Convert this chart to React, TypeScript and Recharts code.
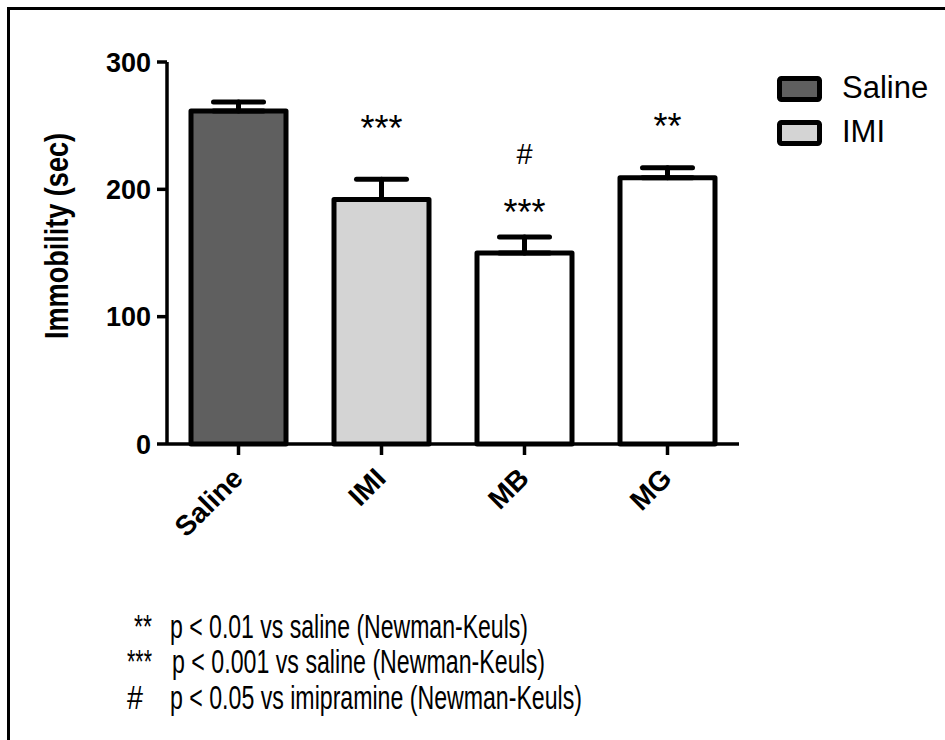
import React from 'react';
import { BarChart, Bar, XAxis, YAxis, ErrorBar, Cell, Legend, ReferenceDot } from 'recharts';

const FONT = '"Liberation Sans", Arial, Helvetica, sans-serif';

// ---- data ----
const categories = ['Saline', 'IMI', 'MB', 'MG'];
const immobility = [261.5, 192, 150, 209];
const semUpper = [7, 16, 12.5, 8];
const barFills = ['#5f5f5f', '#d4d4d4', '#ffffff', '#ffffff'];
const yTicks = [0, 100, 200, 300];
const legendNames = ['Saline', 'IMI'];
const legendFills = ['#5f5f5f', '#d4d4d4'];
const annotCategories = ['IMI', 'MB', 'MB', 'MG'];
const annotTexts = ['***', '#', '***', '**'];
const annotLevels = [254, 228, 188, 255];
const footMarks = ['**', '***', '#'];
const footTexts = [
  'p < 0.01 vs saline (Newman-Keuls)',
  'p < 0.001 vs saline (Newman-Keuls)',
  'p < 0.05 vs imipramine (Newman-Keuls)',
];
const yTitle = 'Immobility (sec)';

const data = categories.map((c, i) => ({ name: c, value: immobility[i], err: [0, semUpper[i]] }));

const XTick = (props: any) => {
  const { x, y, payload } = props;
  const ax = x + 6;
  const ay = y + 23;
  return (
    <text
      x={ax}
      y={ay}
      transform={`rotate(-45, ${ax}, ${ay})`}
      textAnchor="end"
      fontFamily={FONT}
      fontWeight="bold"
      fontSize={28}
      fill="#000"
    >
      {payload.value}
    </text>
  );
};

const LegendContent = () => (
  <svg width={175} height={85} style={{ display: 'block', overflow: 'visible' }}>
    {legendNames.map((n, i) => (
      <g key={n}>
        <rect
          x={9.5}
          y={8.5 + i * 44}
          width={40}
          height={21}
          rx={2}
          fill={legendFills[i]}
          stroke="#000"
          strokeWidth={5}
        />
        <text x={72} y={28 + i * 44} fontFamily={FONT} fontSize={31} fill="#000">
          {n}
        </text>
      </g>
    ))}
  </svg>
);

const YTitle = () => (
  <text
    x={68}
    y={236}
    transform="rotate(-90, 68, 236)"
    textAnchor="middle"
    fontFamily={FONT}
    fontWeight="bold"
    fontSize={34}
    textLength={206}
    lengthAdjust="spacingAndGlyphs"
    fill="#000"
  >
    {yTitle}
  </text>
);

const footMarkX = [134, 127, 127];
const footMarkW = [18, 25, 16];
const footTextX = [170, 172, 170];
const footTextW = [358, 373, 412];
const footBase = [638, 673, 709];

export default function App() {
  return (
    <div style={{ position: 'absolute', left: 0, top: 0, width: 945, height: 740, overflow: 'hidden', background: '#fff' }}>
      <BarChart
        width={945}
        height={740}
        data={data}
        margin={{ top: 62, right: 206, bottom: 236, left: 67 }}
        barSize={95}
      >
        <XAxis
          dataKey="name"
          height={60}
          tickSize={11}
          interval={0}
          tick={<XTick />}
          axisLine={{ stroke: '#000', strokeWidth: 3.5 }}
          tickLine={{ stroke: '#000', strokeWidth: 3.5 }}
        />
        <YAxis
          domain={[0, 300]}
          ticks={yTicks}
          width={100}
          tickSize={10}
          tickMargin={6}
          interval={0}
          tick={{ fontFamily: FONT, fontSize: 27, fontWeight: 'bold', fill: '#000' }}
          axisLine={{ stroke: '#000', strokeWidth: 3.5 }}
          tickLine={{ stroke: '#000', strokeWidth: 3.5 }}
          label={{ content: () => <YTitle /> }}
        />
        <Legend
          layout="vertical"
          verticalAlign="middle"
          align="center"
          wrapperStyle={{ left: 770, top: 70, width: 175, height: 85 }}
          content={() => <LegendContent />}
        />
        <Bar
          dataKey="value"
          stroke="#000"
          strokeWidth={5}
          strokeLinejoin="round"
          isAnimationActive={false}
        >
          {data.map((d, i) => (
            <Cell key={d.name} fill={barFills[i]} />
          ))}
          <ErrorBar
            dataKey="err"
            direction="y"
            width={25}
            stroke="#000"
            strokeWidth={5}
            strokeLinecap="round"
            isAnimationActive={false}
          />
        </Bar>
        {annotTexts.map((t, i) => (
          <ReferenceDot
            key={i}
            x={annotCategories[i]}
            y={annotLevels[i]}
            r={0}
            ifOverflow="visible"
            shape={(p: any) => {
              const isStar = t.includes('*');
              const fs = isStar ? 36 : 29;
              const dy = isStar ? 0.56 * fs : 0.36 * fs;
              return (
                <text x={p.cx} y={p.cy + dy} textAnchor="middle" fontFamily={FONT} fontSize={fs} fill="#000">
                  {t}
                </text>
              );
            }}
          />
        ))}
      </BarChart>
      <svg
        width={945}
        height={740}
        style={{ position: 'absolute', left: 0, top: 0, pointerEvents: 'none' }}
      >
        {footTexts.map((t, i) => (
          <g key={i}>
            <text
              x={footMarkX[i]}
              y={footBase[i]}
              fontFamily={FONT}
              fontSize={33}
              textLength={footMarkW[i]}
              lengthAdjust="spacingAndGlyphs"
              fill="#000"
            >
              {footMarks[i]}
            </text>
            <text
              x={footTextX[i]}
              y={footBase[i]}
              fontFamily={FONT}
              fontSize={33}
              textLength={footTextW[i]}
              lengthAdjust="spacingAndGlyphs"
              fill="#000"
            >
              {t}
            </text>
          </g>
        ))}
      </svg>
      <div
        style={{
          position: 'absolute',
          left: 7,
          top: 7,
          width: 2000,
          height: 2000,
          borderLeft: '3px solid #000',
          borderTop: '3px solid #000',
          pointerEvents: 'none',
        }}
      />
    </div>
  );
}
